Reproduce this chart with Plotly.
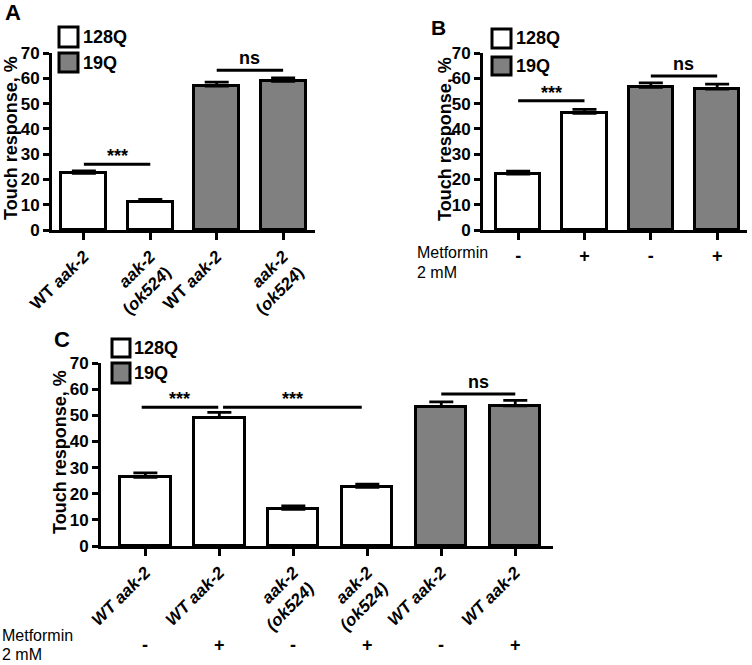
import plotly.graph_objects as go

W, H = 752, 665
FONT = "Liberation Sans, Arial, sans-serif"
WHITE, GRAY = "#ffffff", "#808080"

# ---------------- data ----------------
a_labels = ["WT <i>aak-2</i>", "<i>aak-2</i><br>(<i>ok524</i>)", "WT <i>aak-2</i>", "<i>aak-2</i><br>(<i>ok524</i>)"]
a_values = [22.4, 11.2, 56.9, 58.8]
a_errors = [1.0, 0.9, 1.6, 1.4]
a_colors = [WHITE, WHITE, GRAY, GRAY]

b_metformin = ["-", "+", "-", "+"]
b_values = [22.1, 46.1, 56.4, 55.7]
b_errors = [1.2, 1.6, 1.8, 2.0]
b_colors = [WHITE, WHITE, GRAY, GRAY]

c_labels = ["<i>WT aak-2</i>", "<i>WT aak-2</i>", "<i>aak-2</i><br><i>(ok524)</i>", "<i>aak-2</i><br><i>(ok524)</i>", "<i>WT aak-2</i>", "<i>WT aak-2</i>"]
c_metformin = ["-", "+", "-", "+", "-", "+"]
c_values = [26.3, 49.1, 14.0, 22.4, 53.3, 53.6]
c_errors = [1.7, 2.0, 1.3, 1.3, 1.8, 2.1]
c_colors = [WHITE, WHITE, WHITE, WHITE, GRAY, GRAY]

# significance: [x_start, x_end, y, label]
a_sig = [[0, 1, 26.0, "***"], [2, 3, 63.2, "ns"]]
b_sig = [[0, 1, 51.1, "***"], [2, 3, 60.9, "ns"]]
c_sig = [[-0.05, 0.985, 53.1, "***"], [1.05, 2.925, 53.1, "***"], [4, 5, 58.1, "ns"]]

legend_names = ["128Q", "19Q"]
legend_colors = [WHITE, GRAY]
y_ticks = [0, 10, 20, 30, 40, 50, 60, 70]


def px(x):
    return x / W


def py(y):
    return 1 - y / H


fig = go.Figure()

panels = [
    dict(ax="", values=a_values, errors=a_errors, colors=a_colors, width=0.68),
    dict(ax="2", values=b_values, errors=b_errors, colors=b_colors, width=0.67),
    dict(ax="3", values=c_values, errors=c_errors, colors=c_colors, width=0.68),
]
for p in panels:
    n = len(p["values"])
    fig.add_trace(go.Bar(
        x=list(range(n)), y=p["values"],
        marker=dict(color=p["colors"], line=dict(color="black", width=3)),
        width=p["width"],
        error_y=dict(type="data", symmetric=False, array=p["errors"], arrayminus=[0] * n,
                     color="black", thickness=2.8, width=12),
        xaxis="x" + p["ax"], yaxis="y" + p["ax"], showlegend=False,
    ))

tickfont = dict(family=FONT, size=17, color="black", weight="bold")
yax = dict(range=[0, 70], tickvals=y_ticks, showline=True, linewidth=3, linecolor="black",
           ticks="outside", ticklen=6, tickwidth=3, tickcolor="black", showgrid=False,
           zeroline=False, tickfont=tickfont, fixedrange=True, automargin=False)
xax = dict(showline=True, linewidth=3, linecolor="black", ticks="outside", ticklen=7,
           tickwidth=2.5, tickcolor="black", showgrid=False, zeroline=False, fixedrange=True,
           automargin=False)

fig.update_layout(
    width=W, height=H, margin=dict(l=0, r=0, t=0, b=0, autoexpand=False),
    paper_bgcolor="white", plot_bgcolor="white",
    font=dict(family=FONT, color="black"),
    bargap=0,
    xaxis=dict(xax, domain=[px(52), px(315)], range=[-0.48, 3.48], anchor="y",
               tickvals=list(range(4)), ticktext=a_labels, tickangle=-45,
               tickfont=dict(family=FONT, size=17, color="black", weight="bold")),
    yaxis=dict(yax, domain=[py(230), py(53)], anchor="x"),
    xaxis2=dict(xax, domain=[px(483), px(747)], range=[-0.53, 3.45], anchor="y2",
                tickvals=list(range(4)), ticktext=b_metformin, tickangle=0,
                tickfont=dict(family=FONT, size=18, color="black", weight="bold")),
    yaxis2=dict(yax, domain=[py(230), py(53)], anchor="x2"),
    xaxis3=dict(xax, domain=[px(101), px(553)], range=[-0.6, 5.51], anchor="y3",
                tickvals=list(range(6)), ticktext=c_labels, tickangle=-45,
                tickfont=dict(family=FONT, size=17, color="black", weight="bold")),
    yaxis3=dict(yax, domain=[py(546), py(363)], anchor="x3"),
)

shapes = []
annotations = []


def ann(text, x, y, size, weight="bold", xanchor="center", yanchor="middle", angle=0,
        xref="paper", yref="paper", yshift=0):
    annotations.append(dict(text=text, x=x, y=y, xref=xref, yref=yref, showarrow=False,
                            xanchor=xanchor, yanchor=yanchor, textangle=angle, yshift=yshift,
                            font=dict(family=FONT, size=size, color="black", weight=weight)))


# significance bars
for sig, ax in [(a_sig, ""), (b_sig, "2"), (c_sig, "3")]:
    for x0, x1, y, lab in sig:
        shapes.append(dict(type="line", xref="x" + ax, yref="y" + ax, x0=x0, x1=x1, y0=y, y1=y,
                           line=dict(color="black", width=3)))
        ann(lab, (x0 + x1) / 2, y, 18, xref="x" + ax, yref="y" + ax, yanchor="bottom",
            yshift=(-4 if lab == "***" else 0))

# legends: (box_left, box_right, [(top, bottom)...], text_x)
legends = [
    (59, 78, [(27, 47), (53, 72)], 81),
    (492, 511, [(29, 48), (57, 75)], 514),
    (112, 130, [(339, 357), (363, 383)], 132),
]
for l, r, rows, tx in legends:
    for (t, b), name, col in zip(rows, legend_names, legend_colors):
        shapes.append(dict(type="rect", xref="paper", yref="paper", x0=px(l), x1=px(r),
                           y0=py(b), y1=py(t), fillcolor=col, line=dict(color="black", width=3)))
        ann(name, px(tx), py((t + b) / 2), 18, xanchor="left")

# panel letters
ann("A", px(13), py(13), 22)
ann("B", px(438), py(27), 21)
ann("C", px(62), py(339), 22)

# y axis titles
ann("Touch response, %", px(11), py(138), 18, angle=-90)
ann("Touch response, %", px(445), py(139), 18, angle=-90)
ann("Touch response, %", px(60), py(452), 18, angle=-90)

# Metformin rows
ann("Metformin", px(415), py(253), 16, weight="normal", xanchor="left")
ann("2 mM", px(415), py(272), 16, weight="normal", xanchor="left")
ann("Metformin", px(0), py(635), 16, weight="normal", xanchor="left")
ann("2 mM", px(0), py(654), 16, weight="normal", xanchor="left")
for i, s in enumerate(c_metformin):
    ann(s, i, py(645), 18, xref="x3", yref="paper")

fig.update_layout(shapes=shapes, annotations=annotations)
fig.write_html("out.html", config={"displayModeBar": False},
               post_script="document.body.style.margin='0';document.body.style.overflow='hidden';")
